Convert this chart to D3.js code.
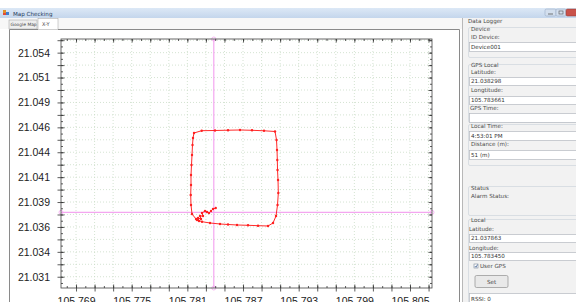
<!DOCTYPE html>
<html lang="en">
<head>
<meta charset="UTF-8">
<title>Map Checking</title>
<style>
  body { margin: 0; background: #fff; overflow: hidden; }
  svg { display: block; font-family: "Liberation Sans", Arial, sans-serif; }
  .ui { font-family: "DejaVu Sans", sans-serif; font-size: 5.6px; fill: #4a4a4a; }
</style>
<script src="https://d3js.org/d3.v7.min.js"></script>
</head>
<body>
<svg id="chart" width="576" height="302"></svg>
<script>
// GPS track (longitude / latitude)
const trackLon = [105.781533, 105.781102, 105.780994, 105.780962, 105.780994, 105.780994, 105.781048,
  105.781102, 105.781156, 105.781210, 105.781317, 105.782147, 105.783581, 105.784983, 105.786276,
  105.787570, 105.788863, 105.790049, 105.790211, 105.790265, 105.790297, 105.790319, 105.790373,
  105.790405, 105.790319, 105.790157, 105.789834, 105.789295, 105.788217, 105.787139, 105.785953,
  105.784983, 105.784120, 105.783042, 105.782180, 105.781641, 105.781856, 105.781749, 105.782072,
  105.781964, 105.782288, 105.782180, 105.782503, 105.782719, 105.782934, 105.783150, 105.783366,
  105.783661];
const trackLat = [21.037198, 21.037700, 21.038604, 21.039608, 21.040612, 21.041616, 21.042620,
  21.043624, 21.044628, 21.045331, 21.045833, 21.046064, 21.046084, 21.046114, 21.046134,
  21.046104, 21.046054, 21.045983, 21.045130, 21.044126, 21.043122, 21.042118, 21.041114,
  21.039809, 21.038604, 21.037500, 21.036797, 21.036496, 21.036526, 21.036566, 21.036596,
  21.036646, 21.036696, 21.036797, 21.036927, 21.037098, 21.036997, 21.037299, 21.037198,
  21.037500, 21.037500, 21.037801, 21.038002, 21.037901, 21.037801, 21.038002, 21.038202,
  21.038298];

// reference point (crosshair)
const localLat = 21.037863;
const localLon = 105.783450;

// labelled ticks
const xLabelTicks = [105.7686, 105.7746, 105.7806, 105.7866, 105.7926, 105.7986, 105.8046];
const yLabelTicks = [21.0314, 21.0339, 21.0364, 21.0389, 21.0414, 21.0439, 21.0464, 21.0489, 21.0514, 21.0539];

const xDomain = [105.76698, 105.80697];
const yDomain = [21.03027, 21.05527];

const svg = d3.select("#chart");
const pLeft = 61, pRight = 432, pTop = 39, pBottom = 288;

const x = d3.scaleLinear().domain(xDomain).range([pLeft, pRight]);
const y = d3.scaleLinear().domain(yDomain).range([pBottom, pTop]);

// grid / minor tick values
const xGrid = d3.range(0, 20).map(k => xLabelTicks[0] + k * 0.002).filter(v => v > xDomain[0] && v < xDomain[1]);
const xMinor = d3.range(-2, 40).map(k => xLabelTicks[0] + k * 0.001).filter(v => v > xDomain[0] && v < xDomain[1]);
const yGrid = d3.range(0, 21).map(k => yLabelTicks[0] + k * 0.00125).filter(v => v > yDomain[0] && v < yDomain[1]);
const yMinor = d3.range(-2, 42).map(k => yLabelTicks[0] + k * 0.000625).filter(v => v > yDomain[0] && v < yDomain[1]);

// ---------- window chrome ----------
const defs = svg.append("defs");
const tg = defs.append("linearGradient").attr("id", "titleGrad").attr("x1", 0).attr("x2", 0).attr("y1", 0).attr("y2", 1);
tg.append("stop").attr("offset", "0%").attr("stop-color", "#dce8f6");
tg.append("stop").attr("offset", "100%").attr("stop-color", "#c4d6ec");

svg.append("rect").attr("width", 576).attr("height", 302).attr("fill", "#fff");
svg.append("rect").attr("x", 0).attr("y", 8).attr("width", 576).attr("height", 10).attr("fill", "url(#titleGrad)");
// icon
svg.append("rect").attr("x", 3).attr("y", 10).attr("width", 3).attr("height", 3).attr("fill", "#e0902a");
svg.append("rect").attr("x", 6).attr("y", 12).attr("width", 3).attr("height", 3).attr("fill", "#3d7fd0");
svg.append("rect").attr("x", 3).attr("y", 13).attr("width", 3).attr("height", 2).attr("fill", "#e04a3a");
svg.append("text").attr("class", "ui").attr("x", 13).attr("y", 15.5).style("fill", "#1e395b").text("Map Checking");

// window buttons
svg.append("rect").attr("x", 545).attr("y", 9).attr("width", 11).attr("height", 7).attr("rx", 1.5)
  .attr("fill", "#d3dfee").attr("stroke", "#8ea3bf").attr("stroke-width", 0.5);
svg.append("rect").attr("x", 556).attr("y", 9).attr("width", 10).attr("height", 7).attr("rx", 1.5)
  .attr("fill", "#d3dfee").attr("stroke", "#8ea3bf").attr("stroke-width", 0.5);
svg.append("rect").attr("x", 566).attr("y", 9).attr("width", 14).attr("height", 7).attr("rx", 1.5)
  .attr("fill", "#c9524a").attr("stroke", "#8b3a35").attr("stroke-width", 0.5);
svg.append("line").attr("x1", 548).attr("x2", 553).attr("y1", 14).attr("y2", 14).attr("stroke", "#555").attr("stroke-width", 0.8);
svg.append("rect").attr("x", 559).attr("y", 11).attr("width", 4).attr("height", 3).attr("fill", "none").attr("stroke", "#555").attr("stroke-width", 0.6);

// tab strip
svg.append("rect").attr("x", 0).attr("y", 18).attr("width", 462).attr("height", 11).attr("fill", "#f7f7f7");
svg.append("rect").attr("x", 9).attr("y", 20).attr("width", 28).attr("height", 9)
  .attr("fill", "#eeeeee").attr("stroke", "#a0a0a0").attr("stroke-width", 0.5);
svg.append("text").attr("class", "ui").attr("x", 10.5).attr("y", 26.3).style("font-size", "4.4px").text("Google Map");
svg.append("rect").attr("x", 38).attr("y", 18.5).attr("width", 20).attr("height", 11)
  .attr("fill", "#fff").attr("stroke", "#a0a0a0").attr("stroke-width", 0.5);
svg.append("text").attr("class", "ui").attr("x", 42).attr("y", 25.5).style("font-size", "5px").text("X-Y");

// chart panel
svg.append("path").attr("d", "M9.5,302 V29.5 H38 M58,29.5 H459.5 V302")
  .attr("fill", "none").attr("stroke", "#8a8a8a").attr("stroke-width", 1);
svg.append("line").attr("x1", 462.5).attr("x2", 462.5).attr("y1", 18).attr("y2", 302).attr("stroke", "#b8b8b8");

// ---------- right panel (Data Logger) ----------
const panel = svg.append("g");
panel.append("rect").attr("x", 463).attr("y", 18).attr("width", 113).attr("height", 284).attr("fill", "#f2f2f2");

function label(px, py, t) {
  panel.append("text").attr("class", "ui").attr("x", px).attr("y", py).text(t);
}
function textbox(px, py, w, h, t) {
  panel.append("rect").attr("x", px + 0.5).attr("y", py + 0.5).attr("width", w).attr("height", h)
    .attr("fill", "#fff").attr("stroke", "#b5b9c0").attr("stroke-width", 0.7);
  if (t) panel.append("text").attr("class", "ui").attr("x", px + 2).attr("y", py + h - 2).style("fill", "#333").text(t);
}
function group(px, py, w, h) {
  panel.append("rect").attr("x", px + 0.5).attr("y", py + 0.5).attr("width", w).attr("height", h).attr("rx", 1.5)
    .attr("fill", "none").attr("stroke", "#d2d8de").attr("stroke-width", 0.8);
}

label(468, 23, "Data Logger");
group(468, 27, 120, 30);
label(471, 31, "Device");
label(471, 39, "ID Device:");
textbox(469, 42, 110, 9, "Device001");

group(468, 64, 120, 58);
label(471, 67, "GPS Local");
label(471, 74, "Latitude:");
textbox(469, 77, 110, 8, "21.038298");
label(471, 92, "Longtitude:");
textbox(469, 96, 110, 8, "105.783661");
label(470, 109.5, "GPS Time:");
textbox(469, 113, 110, 9, "");

group(468, 124, 120, 41);
label(471, 128, "Local Time:");
textbox(469, 131, 110, 9, "4:53:01 PM");
label(471, 146, "Distance (m):");
textbox(469, 150, 110, 9, "51 (m)");

group(468, 186, 120, 29);
label(471, 190, "Status");
label(471, 198, "Alarm Status:");

group(468, 219, 120, 90);
label(471, 222, "Local");
label(469, 231, "Latitude:");
textbox(469, 234, 110, 8, "21.037863");
label(469, 250, "Longitude:");
textbox(469, 252, 110, 8, "105.783450");
panel.append("rect").attr("x", 474).attr("y", 264).attr("width", 4).attr("height", 4)
  .attr("fill", "#fff").attr("stroke", "#7a8899").attr("stroke-width", 0.6);
panel.append("path").attr("d", "M474.8,266 L476,267.3 L477.5,264.6").attr("fill", "none")
  .attr("stroke", "#2a4f8a").attr("stroke-width", 0.7);
label(480, 268, "User GPS");
panel.append("rect").attr("x", 475).attr("y", 275.5).attr("width", 33).attr("height", 12).attr("rx", 1.5)
  .attr("fill", "#e9e9e9").attr("stroke", "#8f8f8f").attr("stroke-width", 0.7);
panel.append("text").attr("class", "ui").attr("x", 491.5).attr("y", 283.5).attr("text-anchor", "middle").text("Set");
textbox(469, 293, 110, 10, "RSSI: 0");

// ---------- chart ----------
const plot = svg.append("g");

// dotted grid
plot.append("g").selectAll("line").data(xGrid).join("line")
  .attr("x1", d => x(d)).attr("x2", d => x(d)).attr("y1", pTop).attr("y2", pBottom)
  .attr("stroke", "#c9dcc6").attr("stroke-width", 0.8).attr("stroke-dasharray", "1,2");
plot.append("g").selectAll("line").data(yGrid).join("line")
  .attr("x1", pLeft).attr("x2", pRight).attr("y1", d => y(d)).attr("y2", d => y(d))
  .attr("stroke", "#c9dcc6").attr("stroke-width", 0.8).attr("stroke-dasharray", "1,2");

// crosshair at local point
const pink = "#f4a6f0";
plot.append("line").attr("x1", x(localLon)).attr("x2", x(localLon)).attr("y1", pTop).attr("y2", pBottom)
  .attr("stroke", pink).attr("stroke-width", 1.2);
plot.append("line").attr("x1", pLeft).attr("x2", pRight).attr("y1", y(localLat)).attr("y2", y(localLat))
  .attr("stroke", pink).attr("stroke-width", 1.2);
const ends = [[x(localLon), pTop], [x(localLon), pBottom], [pLeft, y(localLat)], [pRight, y(localLat)]];
plot.append("g").selectAll("circle").data(ends).join("circle")
  .attr("cx", d => d[0]).attr("cy", d => d[1]).attr("r", 2)
  .attr("fill", "none").attr("stroke", pink).attr("stroke-width", 0.8);

// frame
plot.append("rect").attr("x", pLeft).attr("y", pTop).attr("width", pRight - pLeft).attr("height", pBottom - pTop)
  .attr("fill", "none").attr("stroke", "#444").attr("stroke-width", 0.8);

const tickStyle = g => {
  g.select(".domain").remove();
  g.selectAll(".tick line").attr("stroke", "#333").attr("stroke-width", 0.8);
};

// left axis: crossing major ticks, inward minor ticks, labels
plot.append("g").attr("transform", `translate(${pLeft},0)`)
  .call(d3.axisLeft(y).tickValues(yGrid).tickSize(3.5).tickFormat(""))
  .call(tickStyle).selectAll(".tick line").attr("x1", 3.5);
plot.append("g").attr("transform", `translate(${pLeft},0)`)
  .call(d3.axisRight(y).tickValues(yMinor).tickSize(2).tickFormat(""))
  .call(tickStyle);
plot.append("g").attr("transform", `translate(${pLeft},0)`)
  .call(d3.axisLeft(y).tickValues(yLabelTicks).tickSize(0).tickPadding(11).tickFormat(d3.format(".3f")))
  .call(g => g.select(".domain").remove())
  .call(g => g.selectAll("text").attr("font-size", 10.5).attr("font-family", "Liberation Sans, Arial, sans-serif").attr("fill", "#222"));

// right axis: inward ticks
plot.append("g").attr("transform", `translate(${pRight},0)`)
  .call(d3.axisLeft(y).tickValues(yGrid).tickSize(3.5).tickFormat("")).call(tickStyle);
plot.append("g").attr("transform", `translate(${pRight},0)`)
  .call(d3.axisLeft(y).tickValues(yMinor).tickSize(2).tickFormat("")).call(tickStyle);

// top axis: inward ticks
plot.append("g").attr("transform", `translate(0,${pTop})`)
  .call(d3.axisBottom(x).tickValues(xGrid).tickSize(3.5).tickFormat("")).call(tickStyle);
plot.append("g").attr("transform", `translate(0,${pTop})`)
  .call(d3.axisBottom(x).tickValues(xMinor).tickSize(2).tickFormat("")).call(tickStyle);

// bottom axis: crossing major ticks, inward minor ticks, labels
plot.append("g").attr("transform", `translate(0,${pBottom})`)
  .call(d3.axisBottom(x).tickValues(xGrid).tickSize(3.5).tickFormat(""))
  .call(tickStyle).selectAll(".tick line").attr("y1", -3.5);
plot.append("g").attr("transform", `translate(0,${pBottom})`)
  .call(d3.axisTop(x).tickValues(xMinor).tickSize(2).tickFormat(""))
  .call(tickStyle);
plot.append("g").attr("transform", `translate(0,${pBottom})`)
  .call(d3.axisBottom(x).tickValues(xLabelTicks).tickSize(0).tickPadding(10).tickFormat(d3.format(".3f")))
  .call(g => g.select(".domain").remove())
  .call(g => g.selectAll("text").attr("font-size", 10.5).attr("font-family", "Liberation Sans, Arial, sans-serif").attr("fill", "#222"));

// GPS track
const track = d3.zip(trackLon, trackLat);
plot.append("path").datum(track)
  .attr("fill", "none").attr("stroke", "#ff2a2a").attr("stroke-width", 1)
  .attr("d", d3.line().x(d => x(d[0])).y(d => y(d[1])));
plot.append("g").selectAll("circle").data(track).join("circle")
  .attr("cx", d => x(d[0])).attr("cy", d => y(d[1])).attr("r", 1.2).attr("fill", "#ff2020");
</script>
</body>
</html>
